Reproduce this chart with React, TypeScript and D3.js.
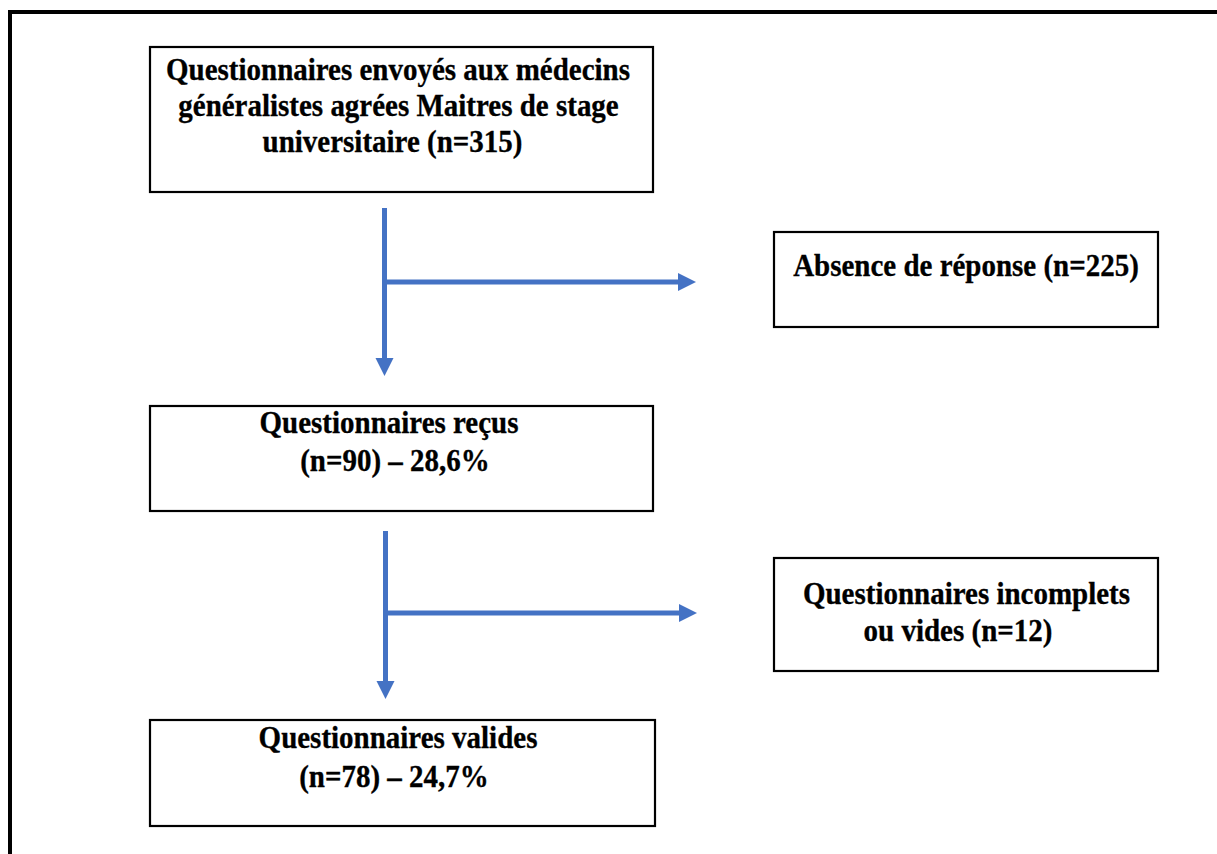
import React from "react";
import * as d3 from "d3";

// ---- content ----
const boxIds = ["sent", "noReply", "received", "incomplete", "valid"];
const boxLines: string[][] = [
  ["Questionnaires envoyés aux médecins", "généralistes agrées Maitres de stage", "universitaire (n=315)"],
  ["Absence de réponse (n=225)"],
  ["Questionnaires reçus", "(n=90) – 28,6%"],
  ["Questionnaires incomplets", "ou vides (n=12)"],
  ["Questionnaires valides", "(n=78) – 24,7%"],
];
const flows = [
  { from: "sent", down: "received", side: "noReply" },
  { from: "received", down: "valid", side: "incomplete" },
];

// ---- layout ----
const W = 1217;
const H = 854;
const boxRects: Record<string, { x0: number; x1: number; y0: number; y1: number }> = {
  sent: { x0: 150, x1: 653, y0: 47, y1: 192 },
  noReply: { x0: 774, x1: 1158, y0: 232, y1: 327 },
  received: { x0: 150, x1: 653, y0: 406, y1: 511 },
  incomplete: { x0: 774, x1: 1158, y0: 558, y1: 671 },
  valid: { x0: 150, x1: 655, y0: 720, y1: 826 },
};
const lineAnchors: Record<string, { cx: number[]; base: number[] }> = {
  sent: { cx: [398, 398.5, 392.5], base: [80, 116, 152] },
  noReply: { cx: [966], base: [276] },
  received: { cx: [389, 395], base: [433, 471] },
  incomplete: { cx: [966.5, 958], base: [604, 641] },
  valid: { cx: [398, 394], base: [748, 787] },
};
const arrowGeom = [
  { x: 384.5, top: 208, tipY: 376, hy: 282, tipX: 696 },
  { x: 385.5, top: 531, tipY: 699, hy: 613, tipX: 697 },
];
const BLUE = "#4472C4";
const HEAD_LEN = 18;
const HEAD_HALF = 9;

export default function App() {
  const line = d3.line<[number, number]>();
  const head = (pts: [number, number][]) => {
    const p = d3.path();
    p.moveTo(pts[0][0], pts[0][1]);
    pts.slice(1).forEach((q) => p.lineTo(q[0], q[1]));
    p.closePath();
    return p.toString();
  };

  return (
    <svg
      width={W}
      height={H}
      style={{ position: "absolute", left: 0, top: 0, background: "#fff" }}
      fontFamily="'Liberation Serif', 'Times New Roman', serif"
    >
      <rect x={0} y={0} width={W} height={H} fill="#fff" />
      {/* outer frame (top + left) */}
      <path d={line([[10, 12], [W + 5, 12]]) || ""} stroke="#000" strokeWidth={4} fill="none" />
      <path d={line([[10, 10], [10, H + 5]]) || ""} stroke="#000" strokeWidth={4} fill="none" />

      {/* arrows */}
      {flows.map((f, i) => {
        const g = arrowGeom[i];
        return (
          <g key={f.from + "-" + f.down}>
            <path d={line([[g.x, g.top], [g.x, g.tipY - HEAD_LEN + 1]]) || ""} stroke={BLUE} strokeWidth={5} fill="none" />
            <path
              d={head([
                [g.x - HEAD_HALF, g.tipY - HEAD_LEN],
                [g.x + HEAD_HALF, g.tipY - HEAD_LEN],
                [g.x, g.tipY],
              ])}
              fill={BLUE}
            />
            <path d={line([[g.x, g.hy], [g.tipX - HEAD_LEN + 1, g.hy]]) || ""} stroke={BLUE} strokeWidth={5} fill="none" />
            <path
              d={head([
                [g.tipX - HEAD_LEN, g.hy - HEAD_HALF],
                [g.tipX - HEAD_LEN, g.hy + HEAD_HALF],
                [g.tipX, g.hy],
              ])}
              fill={BLUE}
            />
          </g>
        );
      })}

      {/* boxes */}
      {boxIds.map((id, i) => {
        const r = boxRects[id];
        const a = lineAnchors[id];
        return (
          <g key={id}>
            <rect x={r.x0} y={r.y0} width={r.x1 - r.x0} height={r.y1 - r.y0} fill="#fff" stroke="#000" strokeWidth={2.2} />
            {boxLines[i].map((t, j) => (
              <text
                key={j}
                transform={`translate(${a.cx[j]},${a.base[j]}) scale(1,1.12)`}
                textAnchor="middle"
                fontSize={29}
                fontWeight="bold"
                fill="#000"
                stroke="#000"
                strokeWidth={0.3}
              >
                {t}
              </text>
            ))}
          </g>
        );
      })}
    </svg>
  );
}
